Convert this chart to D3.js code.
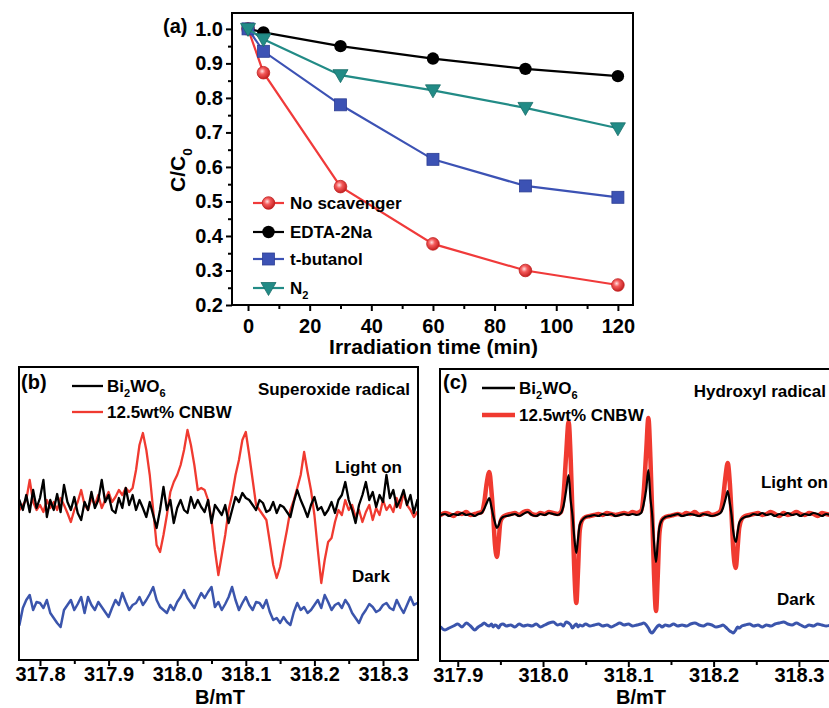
<!DOCTYPE html>
<html>
<head>
<meta charset="utf-8">
<script src="https://cdn.jsdelivr.net/npm/d3@7"></script>
<style>
    body {margin: 0; background: #fff;}
    text {font-family: "Liberation Sans", Arial, sans-serif; font-weight: bold; fill: #000;}
</style>
</head>
<body>
<div id="fig"></div>
<script>
// ---------- panel (a) data ----------
const times = [0, 5, 30, 60, 90, 120];
const noScavenger = [1.0, 0.873, 0.543, 0.377, 0.300, 0.258];
const edta2Na = [1.0, 0.990, 0.950, 0.914, 0.884, 0.863];
const tButanol = [1.0, 0.935, 0.780, 0.622, 0.545, 0.512];
const nitrogen = [1.0, 0.970, 0.866, 0.822, 0.771, 0.712];
const timeTicks = [0, 20, 40, 60, 80, 100, 120];
const timeMinor = [10, 30, 50, 70, 90, 110];
const ratioTicks = [0.2, 0.3, 0.4, 0.5, 0.6, 0.7, 0.8, 0.9, 1.0];
const ratioMinor = [0.25, 0.35, 0.45, 0.55, 0.65, 0.75, 0.85, 0.95];

// ---------- panel (b) data : superoxide radical (DMPO) ----------
const fieldTicksB = [317.8, 317.9, 318.0, 318.1, 318.2, 318.3];
const fieldMinorB = [317.85, 317.95, 318.05, 318.15, 318.25];
const fieldB = [
    317.770,317.775,317.780,317.785,317.790,317.795,317.800,317.805,317.810,317.815,
    317.820,317.825,317.830,317.835,317.840,317.845,317.850,317.855,317.860,317.865,
    317.870,317.875,317.880,317.885,317.890,317.895,317.900,317.905,317.910,317.915,
    317.920,317.925,317.930,317.935,317.940,317.945,317.950,317.955,317.960,317.965,
    317.970,317.975,317.980,317.985,317.990,317.995,318.000,318.005,318.010,318.015,
    318.020,318.025,318.030,318.035,318.040,318.045,318.050,318.055,318.060,318.065,
    318.070,318.075,318.080,318.085,318.090,318.095,318.100,318.105,318.110,318.115,
    318.120,318.125,318.130,318.135,318.140,318.145,318.150,318.155,318.160,318.165,
    318.170,318.175,318.180,318.185,318.190,318.195,318.200,318.205,318.210,318.215,
    318.220,318.225,318.230,318.235,318.240,318.245,318.250,318.255,318.260,318.265,
    318.270,318.275,318.280,318.285,318.290,318.295,318.300,318.305,318.310,318.315,
    318.320,318.325,318.330,318.335,318.340,318.345,318.350];
const superBi = [
    160,150,165,148,170,152,162,180,143,160, 150,166,148,175,158,150,163,147,140,158,
    150,168,152,160,180,158,165,150,147,162, 152,172,155,165,150,160,152,143,158,145,
    132,150,173,150,160,137,152,160,150,147, 163,152,160,153,148,160,137,155,150,145,
    155,137,150,163,158,167,162,160,155,150, 160,157,148,150,158,147,155,153,148,143,
    158,170,160,152,143,155,163,150,153,145, 150,158,147,160,165,178,160,150,137,155,
    165,178,160,168,153,165,158,185,162,170, 153,160,170,155,165,147,160];
const superCnbw = [
    150,155,160,180,158,150,155,148,160,152, 158,150,162,155,147,138,150,158,170,155,
    150,162,155,165,152,160,168,158,163,170, 165,172,168,172,190,215,227,210,185,150,
    115,108,125,145,168,178,185,195,210,230, 215,195,170,172,170,160,140,110,85,105,
    125,150,165,185,200,220,228,205,180,155, 150,145,140,118,95,82,93,112,130,150,
    160,172,185,208,188,170,145,110,77,100, 118,122,138,150,145,160,150,155,143,150,
    138,148,155,140,152,145,160,150,155,148, 162,152,167,155,150,143,148];
const superDark = [
    35,52,60,65,50,58,57,52,60,47, 42,37,33,50,55,60,50,56,63,47,
    63,55,50,58,53,48,43,52,60,55, 67,58,50,55,57,63,55,60,66,73,
    60,53,50,47,55,50,58,63,70,62, 57,52,60,67,62,68,73,53,58,50,
    56,63,73,60,50,57,63,55,50,58, 57,52,60,48,40,42,37,43,38,35,
    48,57,50,53,47,50,55,60,52,65, 58,50,55,57,52,60,55,47,42,37,
    45,50,56,53,48,50,55,57,52,50, 60,53,47,55,63,55,57];

// ---------- panel (c) data : hydroxyl radical (DMPO) ----------
const fieldTicksC = [317.9, 318.0, 318.1, 318.2, 318.3];
const fieldMinorC = [317.95, 318.05, 318.15, 318.25];
const fieldC = [
    317.880,317.885,317.890,317.895,317.900,317.905,317.910,317.915,317.920,317.924,
    317.928,317.931,317.934,317.937,317.9395,317.9415,317.9435,317.946,317.948,317.950,317.953,317.957,
    317.962,317.967,317.972,317.977,317.982,317.987,317.992,317.997,318.002,318.007,318.012,318.017,
    318.021,318.024,318.027,318.030,318.0325,318.0345,318.0365,318.039,318.041,318.043,318.046,318.050,
    318.055,318.060,318.065,318.070,318.075,318.080,318.085,318.090,318.095,318.100,318.105,318.110,
    318.115,318.118,318.121,318.1235,318.126,318.128,318.130,318.1325,318.1345,318.1365,318.1395,318.1435,
    318.148,318.153,318.158,318.163,318.168,318.173,318.178,318.183,318.188,318.193,318.198,318.203,
    318.208,318.211,318.214,318.2165,318.219,318.221,318.223,318.226,318.228,318.230,318.233,318.237,
    318.242,318.247,318.252,318.257,318.262,318.267,318.272,318.277,318.282,318.287,
    318.292,318.297,318.302,318.307,318.312,318.317,318.322,318.327,318.332,318.337];
const hydroBi = [
    146,147,145,147,146,148,146,147,145,147,
    148,152,158,163,154,146,139,133,136,141,144,145,
    146,147,145,147,149,146,145,147,146,148,147,146,
    148,155,170,186,160,146,125,108,122,136,141,144,
    145,146,145,147,146,147,145,146,147,146,147,146,
    148,157,172,191,162,146,120,99,118,134,141,144,
    145,146,147,145,146,147,146,145,147,146,145,146,
    148,153,162,170,158,146,130,119,128,138,142,144,
    145,147,146,148,146,147,145,147,146,148,
    146,147,145,147,146,148,147,145,147,146];
const hydroCnbw = [
    146,148,147,145,148,147,149,146,147,148,
    149,158,178,189,170,147,118,104,120,139,144,146,
    147,148,146,149,150,147,146,148,147,149,148,147,
    149,165,205,239,200,147,95,58,90,130,141,144,
    145,146,147,146,148,147,146,147,148,147,149,148,
    150,168,210,243,200,147,90,50,85,128,141,144,
    145,146,147,146,148,147,149,146,147,148,146,147,
    150,162,185,198,178,147,112,93,112,133,142,145,
    146,147,148,146,147,149,147,145,148,146,
    147,149,147,146,148,147,145,148,147,146];
const hydroDark = [
    34,31,33,35,37,34,38,35,31,34,
    36,38,36,35,37,34,36,35,33,36,37,35,
    36,34,37,35,36,35,37,34,36,38,39,36,
    37,35,39,38,36,33,35,37,34,36,35,37,
    35,36,37,35,36,34,36,38,36,37,35,36,
    37,38,36,33,29,28,30,33,35,36,34,36,
    35,37,35,36,35,37,38,36,35,37,36,34,
    35,36,34,32,30,29,28,31,34,33,35,36,
    37,35,36,34,36,35,37,38,39,37,
    36,38,36,34,36,35,37,36,35,36];

const overall_width = 829;
const overall_height = 708;

let svg = d3.select("#fig")
    .append("svg")
    .attr("width", overall_width)
    .attr("height", overall_height);
svg.append("rect").attr("width", "100%").attr("height", "100%").attr("fill", "#fff");

let defs = svg.append("defs");
let grad = defs.append("radialGradient").attr("id", "ballRed")
    .attr("cx", "40%").attr("cy", "38%").attr("r", "62%");
grad.append("stop").attr("offset", "0%").attr("stop-color", "#ffe0e0");
grad.append("stop").attr("offset", "40%").attr("stop-color", "#f45a5a");
grad.append("stop").attr("offset", "100%").attr("stop-color", "#c42020");

// writes text made of normal and subscript parts
function subText(g, x, y, parts, size, anchor) {
    let t = g.append("text")
        .attr("x", x).attr("y", y)
        .attr("font-size", size + "px")
        .attr("text-anchor", anchor || "start");
    let shift = 0;
    parts.forEach(function(p) {
        let s = p[1] ? size * 0.32 : 0;
        t.append("tspan")
            .attr("dy", s - shift)
            .attr("font-size", p[1] ? (size * 0.65) + "px" : size + "px")
            .text(p[0]);
        shift = s;
    });
    return t;
}

function styleAxis(g, fontSize) {
    g.select(".domain").remove();
    g.selectAll(".tick line").attr("stroke", "#000").attr("stroke-width", 2);
    g.selectAll(".tick text").attr("font-size", fontSize + "px").attr("fill", "#000");
}

// ================= panel (a) =================
function panelA() {
    const box = {l: 232, r: 633, t: 13, b: 305};
    let g = svg.append("g").attr("class", "panel-a");
    let x = d3.scaleLinear().domain([-5.2, 124.9]).range([box.l, box.r]);
    let y = d3.scaleLinear().domain([0.2, 1.046]).range([box.b, box.t]);

    g.append("g").attr("transform", `translate(0,${box.b})`)
        .call(d3.axisBottom(x).tickValues(timeMinor).tickSize(4).tickFormat(""))
        .call(a => styleAxis(a, 20));
    g.append("g").attr("transform", `translate(0,${box.b})`)
        .call(d3.axisBottom(x).tickValues(timeTicks).tickSize(6).tickPadding(8).tickFormat(d3.format("d")))
        .call(a => styleAxis(a, 20));
    g.append("g").attr("transform", `translate(${box.l},0)`)
        .call(d3.axisLeft(y).tickValues(ratioMinor).tickSize(4).tickFormat(""))
        .call(a => styleAxis(a, 20));
    g.append("g").attr("transform", `translate(${box.l},0)`)
        .call(d3.axisLeft(y).tickValues(ratioTicks).tickSize(6).tickPadding(3).tickFormat(d3.format(".1f")))
        .call(a => styleAxis(a, 20));

    g.append("rect")
        .attr("x", box.l).attr("y", box.t)
        .attr("width", box.r - box.l).attr("height", box.b - box.t)
        .attr("fill", "none").attr("stroke", "#000").attr("stroke-width", 2);

    const series = [
        {name: [["No scavenger", 0]], vals: noScavenger, color: "#f03a3a", shape: "ball"},
        {name: [["EDTA-2Na", 0]], vals: edta2Na, color: "#000000", shape: "circle"},
        {name: [["t-butanol", 0]], vals: tButanol, color: "#3c52b4", shape: "square"},
        {name: [["N", 0], ["2", 1]], vals: nitrogen, color: "#228b86", shape: "tri"}
    ];

    function marker(sel, s, cx, cy) {
        if (s.shape === "ball") {
            sel.append("circle").attr("cx", cx).attr("cy", cy).attr("r", 6.3)
                .attr("fill", "url(#ballRed)").attr("stroke", "#c02020").attr("stroke-width", 0.8);
        } else if (s.shape === "circle") {
            sel.append("circle").attr("cx", cx).attr("cy", cy).attr("r", 6.2).attr("fill", "#000");
        } else if (s.shape === "square") {
            sel.append("rect").attr("x", cx - 6).attr("y", cy - 6).attr("width", 12).attr("height", 12)
                .attr("fill", s.color).attr("stroke", "#2e3f94").attr("stroke-width", 0.8);
        } else {
            sel.append("path")
                .attr("d", `M${cx - 7.5},${cy - 5.5}L${cx + 7.5},${cy - 5.5}L${cx},${cy + 7.5}Z`)
                .attr("fill", s.color).attr("stroke", "#1a6f6a").attr("stroke-width", 0.8);
        }
    }

    series.forEach(function(s) {
        let line = d3.line().x((d, i) => x(times[i])).y(d => y(d));
        g.append("path").datum(s.vals)
            .attr("d", line).attr("fill", "none")
            .attr("stroke", s.color).attr("stroke-width", 2.2);
        s.vals.forEach(function(v, i) { marker(g, s, x(times[i]), y(v)); });
    });

    // legend
    const legY = [203, 232, 259, 288];
    series.forEach(function(s, i) {
        g.append("line").attr("x1", 253).attr("x2", 284).attr("y1", legY[i]).attr("y2", legY[i])
            .attr("stroke", s.color).attr("stroke-width", 2.2);
        marker(g, s, 268.5, legY[i]);
        subText(g, 290, legY[i] + 6, s.name, 17);
    });

    g.append("text").attr("x", 163).attr("y", 33).attr("font-size", "20px").text("(a)");
    g.append("text").attr("x", (box.l + box.r) / 2 + 1).attr("y", 354)
        .attr("text-anchor", "middle").attr("font-size", "21px").text("Irradiation time (min)");
    let yl = subText(g, 0, 0, [["C/C", 0], ["0", 1]], 21, "middle");
    yl.attr("transform", "translate(185,170) rotate(-90)");
}

// ================= EPR panels =================
function eprPanel(cfg) {
    let g = svg.append("g");
    let box = cfg.box;
    let clipId = cfg.id + "-clip";
    defs.append("clipPath").attr("id", clipId).append("rect")
        .attr("x", box.l).attr("y", box.t).attr("width", box.r - box.l).attr("height", box.b - box.t);

    let x = d3.scaleLinear().domain(cfg.xDomain).range([box.l, box.r]);
    let y = d3.scaleLinear().domain(cfg.yDomain).range([box.b, box.t]);

    g.append("g").attr("transform", `translate(0,${box.b})`)
        .call(d3.axisBottom(x).tickValues(cfg.minor).tickSize(4).tickFormat(""))
        .call(a => styleAxis(a, 20));
    g.append("g").attr("transform", `translate(0,${box.b})`)
        .call(d3.axisBottom(x).tickValues(cfg.ticks).tickSize(6).tickPadding(1).tickFormat(d3.format(".1f")))
        .call(a => styleAxis(a, 20));

    let plot = g.append("g").attr("clip-path", `url(#${clipId})`);
    cfg.traces.forEach(function(tr) {
        let line = d3.line().x((d, i) => x(cfg.field[i])).y(d => y(d)).curve(tr.curve || d3.curveLinear);
        plot.append("path").datum(tr.vals)
            .attr("d", line).attr("fill", "none")
            .attr("stroke", tr.color).attr("stroke-width", tr.width)
            .attr("stroke-linejoin", "round").attr("stroke-linecap", "round");
    });

    g.append("rect")
        .attr("x", box.l).attr("y", box.t)
        .attr("width", box.r - box.l).attr("height", box.b - box.t)
        .attr("fill", "none").attr("stroke", "#000").attr("stroke-width", 2);

    // legend
    let lg = cfg.legend;
    g.append("line").attr("x1", lg.x1).attr("x2", lg.x2).attr("y1", lg.y[0]).attr("y2", lg.y[0])
        .attr("stroke", "#000").attr("stroke-width", lg.w[0]);
    g.append("line").attr("x1", lg.x1).attr("x2", lg.x2).attr("y1", lg.y[1]).attr("y2", lg.y[1])
        .attr("stroke", "#f03a30").attr("stroke-width", lg.w[1]);
    subText(g, lg.x2 + 4, lg.y[0] + 6, [["Bi", 0], ["2", 1], ["WO", 0], ["6", 1]], 17);
    g.append("text").attr("x", lg.x2 + 4).attr("y", lg.y[1] + 6).attr("font-size", "17px").text("12.5wt% CNBW");

    g.append("text").attr("x", cfg.label.x).attr("y", cfg.label.y).attr("font-size", "20px").text(cfg.label.text);
    g.append("text").attr("x", cfg.title.x).attr("y", cfg.title.y).attr("text-anchor", "end")
        .attr("font-size", "17px").text(cfg.title.text);
    g.append("text").attr("x", cfg.lightOn.x).attr("y", cfg.lightOn.y).attr("text-anchor", "end")
        .attr("font-size", "17px").text("Light on");
    g.append("text").attr("x", cfg.dark.x).attr("y", cfg.dark.y).attr("text-anchor", "middle")
        .attr("font-size", "17px").text("Dark");
    g.append("text").attr("x", cfg.xTitle).attr("y", 703.6).attr("text-anchor", "middle")
        .attr("font-size", "20px").text("B/mT");
}

panelA();

eprPanel({
    id: "pb",
    box: {l: 19, r: 418, t: 367, b: 660},
    xDomain: [317.7694, 318.3510], yDomain: [0, 293],
    ticks: fieldTicksB, minor: fieldMinorB, field: fieldB,
    traces: [
        {vals: superCnbw, color: "#f03a30", width: 2.3},
        {vals: superBi, color: "#000", width: 2.3},
        {vals: superDark, color: "#3b55ac", width: 2.5}
    ],
    legend: {x1: 72, x2: 103, y: [386, 412], w: [2.3, 2.3]},
    label: {x: 21, y: 389, text: "(b)"},
    title: {x: 410, y: 395, text: "Superoxide radical"},
    lightOn: {x: 402, y: 473},
    dark: {x: 371, y: 582},
    xTitle: 220
});

eprPanel({
    id: "pc",
    box: {l: 440, r: 832, t: 369, b: 661},
    xDomain: [317.8792, 318.3388], yDomain: [0, 292],
    ticks: fieldTicksC, minor: fieldMinorC, field: fieldC,
    traces: [
        {vals: hydroCnbw, color: "#f03a30", width: 4.5, curve: d3.curveMonotoneX},
        {vals: hydroBi, color: "#000", width: 2.2, curve: d3.curveMonotoneX},
        {vals: hydroDark, color: "#3b55ac", width: 3, curve: d3.curveMonotoneX}
    ],
    legend: {x1: 482, x2: 515, y: [388, 415], w: [2.6, 4.5]},
    label: {x: 443, y: 389, text: "(c)"},
    title: {x: 826, y: 397, text: "Hydroxyl radical"},
    lightOn: {x: 828, y: 488},
    dark: {x: 796, y: 605},
    xTitle: 641
});
</script>
</body>
</html>
